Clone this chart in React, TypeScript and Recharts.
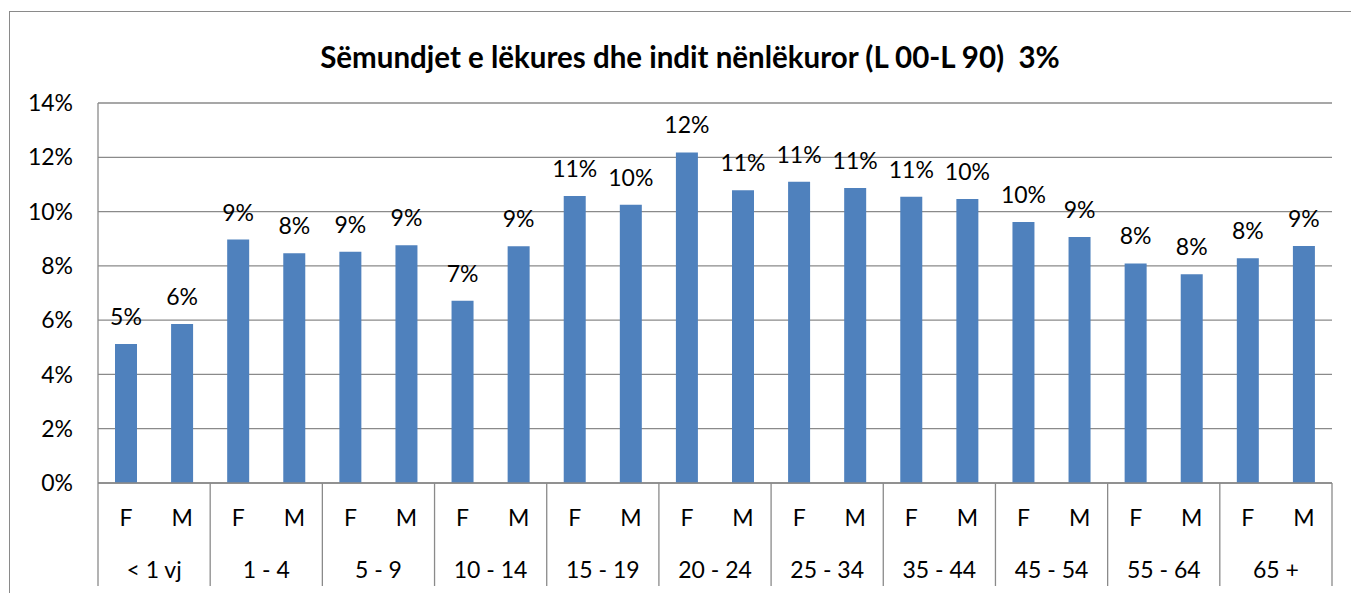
import { BarChart, Bar, XAxis, YAxis, CartesianGrid, LabelList } from 'recharts';

const ageGroups = ['< 1 vj', '1 - 4', '5 - 9', '10 - 14', '15 - 19', '20 - 24', '25 - 34', '35 - 44', '45 - 54', '55 - 64', '65 +'];
const femaleShare = [0.0512, 0.0897, 0.0852, 0.0671, 0.1057, 0.1218, 0.111, 0.1055, 0.0962, 0.0809, 0.0828];
const maleShare = [0.0586, 0.0846, 0.0876, 0.0872, 0.1025, 0.1079, 0.1087, 0.1046, 0.0906, 0.0769, 0.0873];
const sexLabels = ['F', 'M'];
const yTicks = [0, 0.02, 0.04, 0.06, 0.08, 0.1, 0.12, 0.14];

const title = 'Sëmundjet e lëkures dhe indit nënlëkuror (L 00-L 90)  3%';

type Row = { id: number; group: string; sex: string; value: number };

const rows: Row[] = [];
ageGroups.forEach((group, i) => {
  rows.push({ id: rows.length, group, sex: sexLabels[0], value: femaleShare[i] });
  rows.push({ id: rows.length, group, sex: sexLabels[1], value: maleShare[i] });
});

const WIDTH = 1351;
const HEIGHT = 593;
const MARGIN = { top: 103, right: 19, bottom: 0, left: 38 };
const Y_AXIS_WIDTH = 60;
const X_AXIS_HEIGHT = 110;
const STEP = (WIDTH - MARGIN.left - MARGIN.right - Y_AXIS_WIDTH) / rows.length;

const FONT = 'Lato, "Open Sans", sans-serif';
const GRID = '#8a8a8a';

const pct = (v: number) => `${Math.round(v * 100)}%`;

function CategoryTick(props: any) {
  const { x, y, payload } = props;
  const row = rows[payload.index];
  if (!row) return null;
  const isFirst = payload.index % 2 === 0;
  const isLast = payload.index === rows.length - 1;
  return (
    <g>
      <text x={x} y={y + 43} textAnchor="middle" fontSize={23} fill="#000" fontFamily={FONT}>
        {row.sex}
      </text>
      {isFirst && (
        <>
          <text x={x + STEP / 2} y={y + 95} textAnchor="middle" fontSize={23} fill="#000" fontFamily={FONT}>
            {row.group}
          </text>
          <line x1={x - STEP / 2} x2={x - STEP / 2} y1={y} y2={y + 103} stroke={GRID} strokeWidth={1.3} />
        </>
      )}
      {isLast && <line x1={x + STEP / 2} x2={x + STEP / 2} y1={y} y2={y + 103} stroke={GRID} strokeWidth={1.3} />}
    </g>
  );
}

export default function App() {
  return (
    <div style={{ position: 'fixed', left: 0, top: 0, width: WIDTH, height: HEIGHT, overflow: 'hidden', background: '#fff' }}>
      <div
        style={{
          position: 'absolute',
          left: 9,
          top: 11,
          width: WIDTH,
          height: HEIGHT,
          borderLeft: '1.5px solid #8a8a8a',
          borderTop: '1.5px solid #8a8a8a',
        }}
      />
      <div
        style={{
          position: 'absolute',
          left: 0,
          top: 39,
          width: 1380,
          textAlign: 'center',
          fontFamily: FONT,
          fontWeight: 700,
          fontSize: 29.5,
          lineHeight: '36px',
          color: '#000',
          whiteSpace: 'pre',
        }}
      >
        {title}
      </div>
      <div style={{ position: 'absolute', left: 0, top: 0 }}>
        <BarChart width={WIDTH} height={HEIGHT} data={rows} margin={MARGIN} barSize={22}>
          <CartesianGrid vertical={false} stroke={GRID} strokeWidth={1.3} />
          <YAxis
            width={Y_AXIS_WIDTH}
            domain={[0, 0.14]}
            ticks={yTicks}
            tickFormatter={pct}
            tickLine={false}
            tickSize={0}
            tickMargin={25}
            axisLine={{ stroke: GRID, strokeWidth: 1.3 }}
            tick={{ fontSize: 23, fill: '#000', fontFamily: FONT }}
          />
          <XAxis
            dataKey="id"
            height={X_AXIS_HEIGHT}
            interval={0}
            tickLine={false}
            tickSize={0}
            tickMargin={0}
            axisLine={{ stroke: GRID, strokeWidth: 1.3 }}
            tick={<CategoryTick />}
          />
          <Bar dataKey="value" fill="#4f81bd" isAnimationActive={false}>
            <LabelList
              dataKey="value"
              position="top"
              offset={19}
              formatter={(v: any) => pct(Number(v))}
              style={{ fontSize: 23, fill: '#000', fontFamily: FONT }}
            />
          </Bar>
        </BarChart>
      </div>
    </div>
  );
}
